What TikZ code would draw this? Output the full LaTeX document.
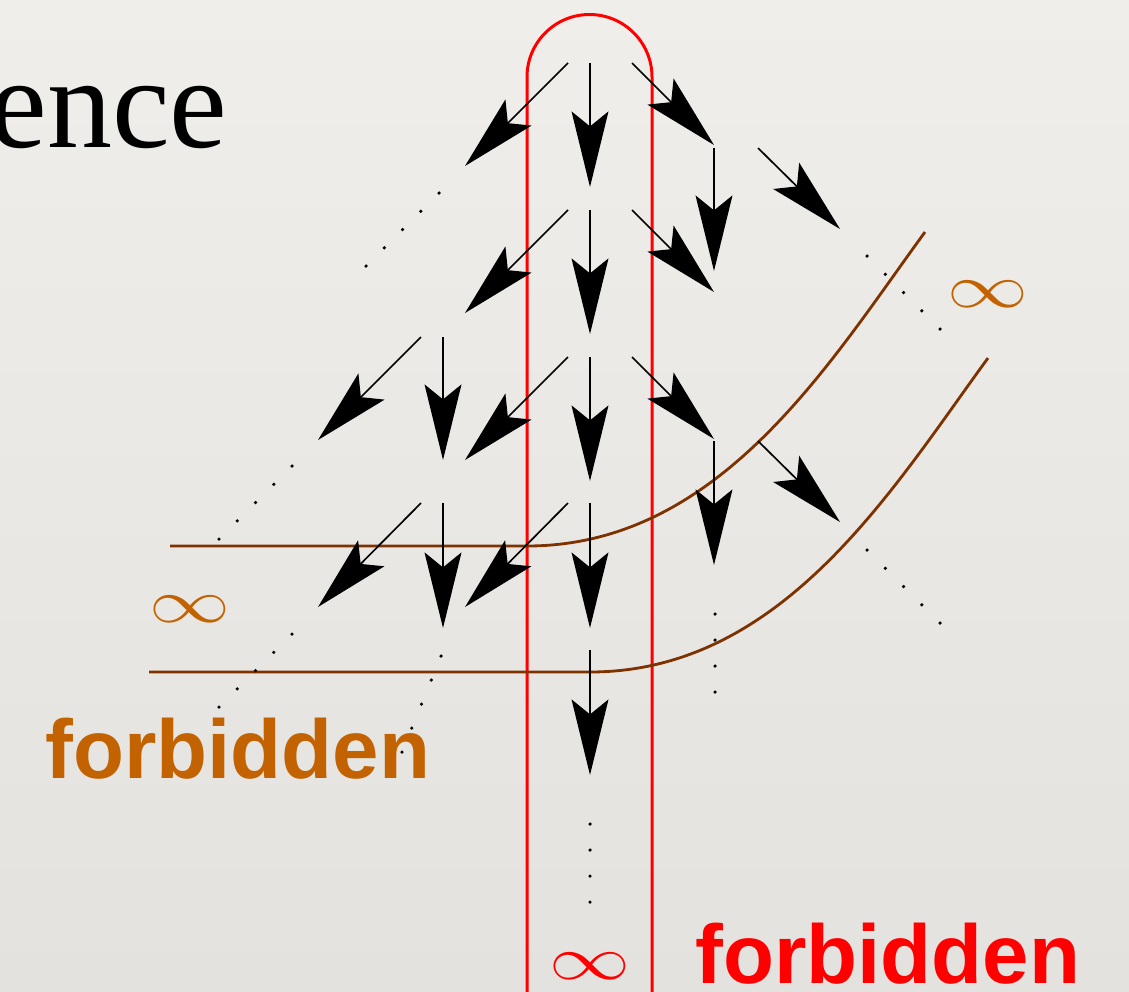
\documentclass[tikz,border=0pt]{standalone}
\usepackage{fontspec}
\setmainfont{Liberation Serif}
\newfontfamily\sansfont{Liberation Sans}
\usetikzlibrary{arrows.meta,calc}
\definecolor{papertop}{RGB}{240,238,235}
\definecolor{paperbot}{RGB}{228,226,222}
\definecolor{fbred}{RGB}{255,0,0}
\definecolor{fborange}{RGB}{194,98,0}
\definecolor{fbbrown}{RGB}{125,50,0}
\newcommand{\myinf}{\scalebox{4.6}[3.5]{$\infty$}}
\begin{document}
\begin{tikzpicture}[x=0.02cm,y=-0.02cm,
  arr/.style={line width=0.95pt,-{Stealth[length=43pt,width=21pt,inset=8.5pt]}},
  redline/.style={draw=fbred,line width=1.7pt},
  brownline/.style={draw=fbbrown,line width=1.6pt},
  dotfill/.style={fill=black},
  forbid/.style={font=\sansfont\bfseries\fontsize{47.5pt}{50pt}\selectfont,inner sep=0pt,text depth=0pt},
  infty/.style={inner sep=0pt,text depth=0pt,anchor=base}]
\useasboundingbox (0,0) rectangle (1129,991);
\clip (0,0) rectangle (1129,991);
\shade[top color=papertop,bottom color=paperbot] (0,0) rectangle (1129,991);

% title fragment
\node[anchor=base east,inner sep=0pt,text depth=0pt,font=\fontsize{74pt}{80pt}\selectfont] (title) at (228,147) {ence};

% red band
\coordinate (rl) at (527,995);
\coordinate (rr) at (652,995);
\draw[redline] (rl) -- (527,77) .. controls (527,42.5) and (555,14.5) .. (589.5,14.5)
   .. controls (624,14.5) and (652,42.5) .. (652,77) -- (rr);

% brown curves
\coordinate (b1s) at (170,546);
\coordinate (b1m) at (527,546);
\coordinate (b1e) at (925,232);
\draw[brownline] (b1s) -- (b1m) .. controls (720,546) and (830,362) .. (b1e);
\coordinate (b2s) at (149,672);
\coordinate (b2m) at (590,672);
\coordinate (b2e) at (988,358);
\draw[brownline] (b2s) -- (b2m) .. controls (783,672) and (893,488) .. (b2e);

% arrows
\foreach \n/\sx/\sy/\ex/\ey in {
  1/568/63/465/166, 2/590/63/590/187, 3/632/63/714/145,
  4/714/148/714/271, 5/758/148/840/229,
  6/568/210/465/313, 7/590/210/590/334, 8/632/210/714/292,
  9/421/337/318/440, 10/443/337/443/460,
  11/568/357/465/460, 12/590/357/590/481, 13/632/357/714/439,
  14/714/441/714/565, 15/758/441/840/522,
  16/421/503/318/607, 17/443/503/443/628,
  18/568/503/465/607, 19/590/503/590/628,
  20/590/650/590/775}{
  \coordinate (s\n) at (\sx,\sy);
  \coordinate (e\n) at (\ex,\ey);
  \draw[arr] (s\n) -- (e\n);
}

% dotted continuations (5 dots)
\foreach \n/\ax/\ay/\bx/\by in {
  1/439/193/366/266, 2/292/466/219/539, 3/292/634/219/707,
  4/441/656/402/752, 7/867/256/940/329, 8/867/550/940/623}{
  \coordinate (da\n) at (\ax,\ay);
  \coordinate (db\n) at (\bx,\by);
  \foreach \t in {0,0.25,0.5,0.75,1}
    \fill[dotfill] ($(da\n)!\t!(db\n)$) circle[radius=1pt];
}
% dotted continuations (4 dots)
\foreach \n/\ax/\ay/\bx/\by in {
  5/590/824/590/902, 6/715/614/715/692}{
  \coordinate (da\n) at (\ax,\ay);
  \coordinate (db\n) at (\bx,\by);
  \foreach \t in {0,0.3333,0.6667,1}
    \fill[dotfill] ($(da\n)!\t!(db\n)$) circle[radius=1pt];
}

% labels
\node[infty,text=fborange] (inf1) at (190,622) {\myinf};
\node[infty,text=fborange] (inf2) at (988,307) {\myinf};
\node[infty,text=fbred] (inf3) at (590,979) {\myinf};
\node[forbid,text=fborange,anchor=base west] (forb1) at (45,778) {forbidden};
\node[forbid,text=fbred,anchor=base west] (forb2) at (695,983) {forbidden};
\end{tikzpicture}
\end{document}
